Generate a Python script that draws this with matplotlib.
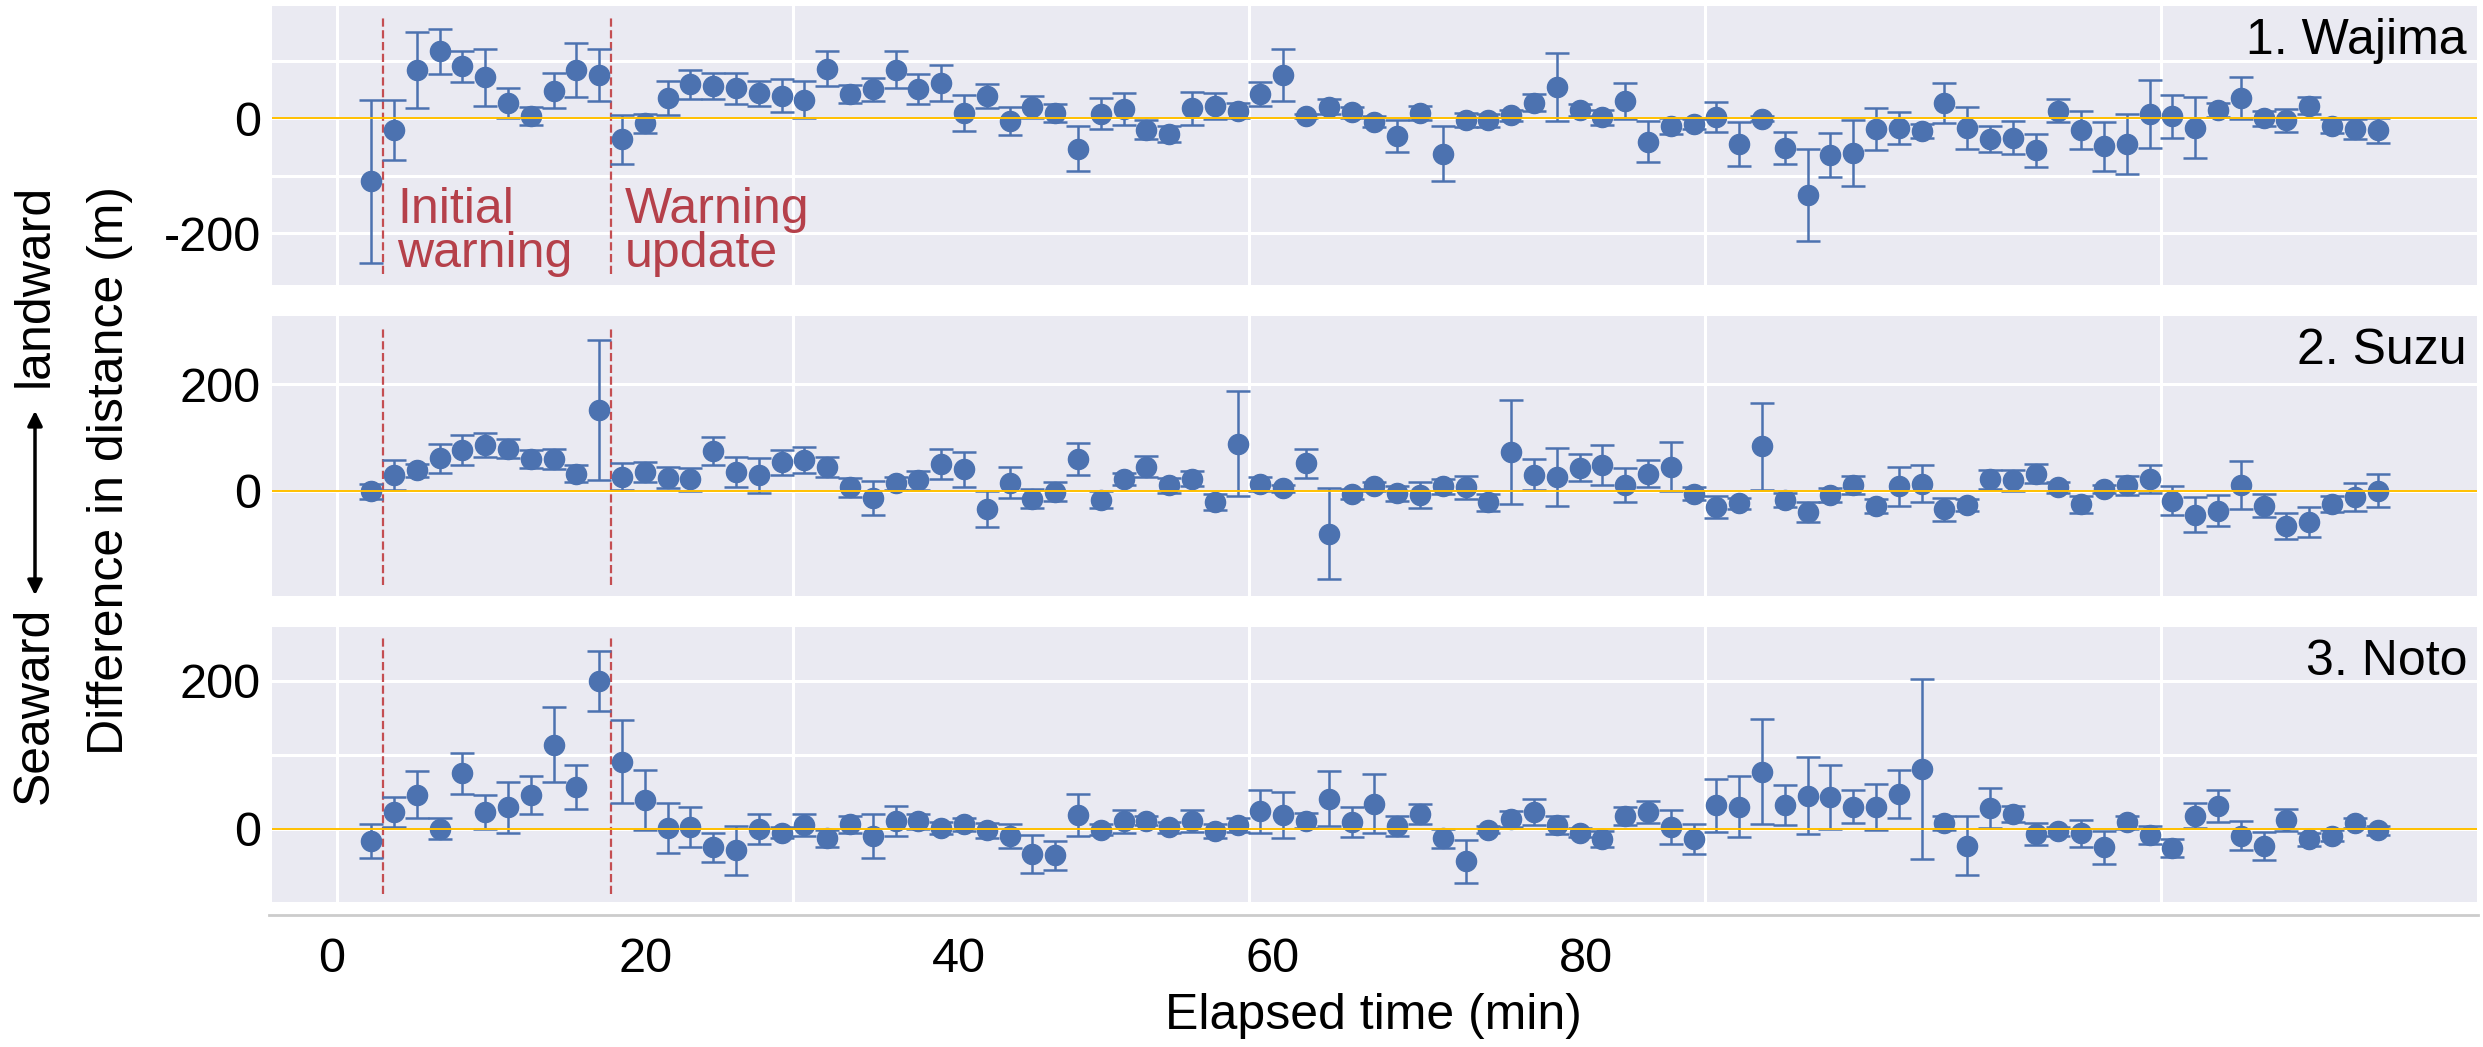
import numpy as np
import matplotlib
matplotlib.use("Agg")
import matplotlib.pyplot as plt
from matplotlib.ticker import MultipleLocator

plt.rcParams['font.family'] = ['Liberation Sans', 'DejaVu Sans']
plt.rcParams['axes.unicode_minus'] = False

# elapsed time of each estimate (min)
minutes = np.arange(1.5, 90.0, 1.0)

wajima = [-110, -20, 83, 116, 90, 71, 27, 4, 48, 83, 75, -37, -9, 35, 59, 56, 52, 43, 39, 32,
          86, 42, 50, 84, 50, 61, 9, 39, -5, 20, 9, -53, 8, 16, -20, -27, 17, 21, 13, 42,
          75, 4, 20, 10, -6, -31, 9, -62, -3, -4, 5, 27, 54, 14, 2, 30, -41, -14, -10, 2,
          -45, -1, -52, -133, -64, -61, -19, -17, -22, 26, -17, -36, -34, -56, 13, -20, -49, -45, 8, 3,
          -17, 14, 35, 0, -4, 22, -13, -19, -21]
wajima_err = [141, 52, 66, 39, 27, 49, 26, 16, 30, 47, 46, 43, 16, 30, 25, 23, 27, 21, 29, 32,
              30, 15, 20, 32, 26, 32, 31, 21, 25, 19, 16, 39, 27, 28, 17, 14, 29, 22, 13, 21,
              45, 4, 13, 10, 9, 27, 12, 48, 12, 12, 10, 15, 59, 11, 13, 31, 36, 14, 8, 26,
              38, 4, 28, 80, 39, 57, 36, 28, 12, 35, 36, 23, 29, 29, 20, 33, 43, 52, 59, 38,
              53, 12, 37, 13, 20, 14, 12, 18, 22]

suzu = [-1, 30, 38, 61, 76, 86, 79, 60, 59, 32, 151, 26, 35, 24, 21, 75, 35, 29, 53, 57,
        44, 6, -14, 14, 19, 50, 40, -35, 15, -15, -2, 60, -17, 22, 45, 10, 22, -22, 88, 12,
        4, 51, -81, -6, 8, -5, -8, 8, 6, -22, 72, 30, 26, 43, 48, 10, 32, 45, -6, -31,
        -24, 83, -18, -40, -8, 10, -29, 8, 13, -35, -27, 21, 19, 32, 6, -26, 3, 10, 22, -19,
        -45, -38, 10, -28, -67, -59, -26, -12, 0]
suzu_err = [14, 28, 12, 27, 28, 22, 17, 17, 19, 16, 132, 25, 19, 20, 22, 26, 28, 33, 23, 24,
            19, 18, 32, 12, 17, 28, 33, 34, 29, 18, 18, 30, 16, 12, 20, 14, 14, 15, 99, 13,
            7, 27, 86, 9, 9, 14, 25, 14, 22, 16, 98, 29, 54, 25, 37, 32, 25, 46, 12, 21,
            10, 81, 13, 19, 13, 17, 13, 36, 35, 22, 12, 18, 20, 18, 10, 16, 7, 18, 27, 27,
            33, 29, 45, 22, 24, 29, 15, 26, 31]

noto = [-17, 23, 46, 0, 75, 23, 29, 46, 114, 57, 200, 91, 39, 1, 2, -25, -29, 0, -5, 5,
        -13, 6, -10, 11, 10, 1, 6, -2, -10, -34, -36, 19, -1, 10, 11, 2, 11, -3, 5, 24,
        19, 11, 41, 9, 34, 4, 20, -13, -44, -1, 13, 23, 5, -5, -14, 17, 23, 3, -14, 32,
        30, 77, 32, 45, 43, 30, 30, 47, 81, 8, -23, 28, 20, -7, -3, -6, -25, 9, -8, -26,
        18, 31, -9, -23, 12, -14, -9, 8, -2]
noto_err = [23, 20, 32, 14, 28, 23, 34, 26, 51, 30, 41, 56, 41, 34, 27, 20, 33, 20, 8, 15,
            12, 11, 30, 20, 10, 8, 9, 10, 16, 26, 20, 28, 7, 16, 6, 7, 15, 10, 9, 29,
            31, 10, 37, 20, 40, 13, 13, 13, 29, 5, 11, 18, 12, 6, 11, 12, 15, 23, 20, 36,
            41, 71, 27, 52, 43, 22, 31, 32, 122, 10, 40, 27, 11, 15, 6, 18, 22, 9, 12, 12,
            17, 22, 20, 19, 15, 9, 8, 7, 6]

stations = ["1. Wajima", "2. Suzu", "3. Noto"]
warning_times = [2, 12]
warning_labels = ["Initial\nwarning", "Warning\nupdate"]

blue = '#4c72b0'
red = '#c44e52'
W, H = 2483, 1047

fig = plt.figure(figsize=(W / 100, H / 100), dpi=100)

# panel boxes in pixels: (top, bottom)
rows = [(6, 285), (316, 596), (627, 905)]
left, right = 272, 2477
ylims = [(-290, 195), (-198, 328), (-103, 273)]
minor_grid = [True, False, True]
series = [(wajima, wajima_err), (suzu, suzu_err), (noto, noto_err)]

axes = []
for i, (top, bot) in enumerate(rows):
    ax = fig.add_axes([left / W, 1 - bot / H, (right - left) / W, (bot - top) / H])
    axes.append(ax)
    ax.set_facecolor('#eaeaf2')
    for s in ax.spines.values():
        s.set_visible(False)
    ax.set_xlim(-2.85, 93.86)
    ax.set_ylim(*ylims[i])
    ax.set_xticks([0, 20, 40, 60, 80])
    ax.yaxis.set_major_locator(MultipleLocator(200))
    ax.yaxis.set_minor_locator(MultipleLocator(100))
    ax.tick_params(axis='x', length=0, labelbottom=False)
    ax.tick_params(axis='y', which='both', length=0, labelsize=35, pad=8)
    ax.grid(True, which='major', color='white', lw=2.2)
    if minor_grid[i]:
        ax.grid(True, which='minor', axis='y', color='white', lw=2.2)
    ax.set_axisbelow(True)

    vals, errs = series[i]
    ax.errorbar(minutes, vals, yerr=errs, fmt='o', color=blue, ms=14.5,
                elinewidth=1.8, capsize=8.5, capthick=1.8, zorder=3)
    ax.axhline(0, color='#ffc000', lw=1.4, zorder=4)
    for t in warning_times:
        ax.axvline(t, ymin=0.04, ymax=0.96, color=red, ls='--', lw=1.6, zorder=2)
    ax.text(0.9955, 0.875, stations[i], transform=ax.transAxes, ha='right', va='center',
            fontsize=36)

for t, lab in zip(warning_times, warning_labels):
    axes[0].text(t + 0.63, -198, lab, color='#b5404a', fontsize=36, ha='left',
                 va='center', linespacing=0.95)

# separate time axis below the panels
axx = fig.add_axes([269 / W, 1 - 915 / H, (2478 - 269) / W, 0.0005])
axx.set_facecolor('none')
for k in ['left', 'right', 'top']:
    axx.spines[k].set_visible(False)
axx.spines['bottom'].set_color('#cccccc')
axx.spines['bottom'].set_linewidth(2)
axx.set_xlim(-4.02, 136.9)
axx.set_xticks([0, 20, 40, 60, 80])
axx.set_yticks([])
axx.tick_params(axis='x', length=0, labelsize=35, pad=16)
axx.set_xlabel("Elapsed time (min)", fontsize=36, labelpad=8)

fig.text(110 / W, 1 - 470 / H, "Difference in distance (m)", rotation=90,
         ha='center', va='center', fontsize=36)
fig.text(35 / W, 1 - 285 / H, "landward", rotation=90, ha='center', va='center', fontsize=36)
fig.text(35 / W, 1 - 705 / H, "Seaward", rotation=90, ha='center', va='center', fontsize=36)
fig.add_artist(matplotlib.patches.FancyArrowPatch(
    (35 / W, 1 - 598 / H), (35 / W, 1 - 408 / H), transform=fig.transFigure,
    arrowstyle='<|-|>', mutation_scale=22, color='black', lw=2.5))

fig.savefig("out.png", dpi=100)
